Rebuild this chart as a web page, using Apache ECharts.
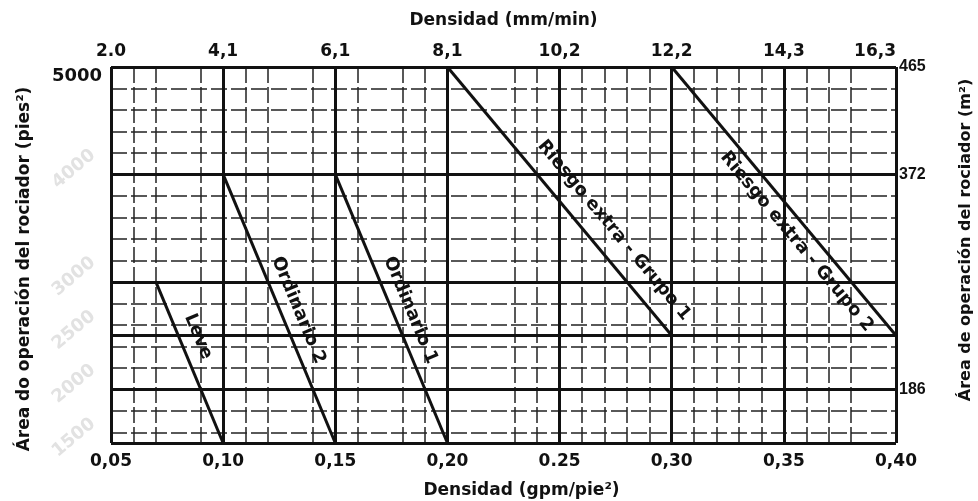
<!DOCTYPE html>
<html><head><meta charset="utf-8">
<script src="https://cdn.jsdelivr.net/npm/echarts@6/dist/echarts.min.js"></script>
<style>html,body{margin:0;padding:0;background:#fff}#c{width:978px;height:501px}</style>
</head><body><div id="c"></div>
<script>
// ---- axis ticks / labels ----
const xTicks = [0.05, 0.10, 0.15, 0.20, 0.25, 0.30, 0.35, 0.40];
const bottomLabels = ['0,05', '0,10', '0,15', '0,20', '0.25', '0,30', '0,35', '0,40'];
const topLabels = ['2.0', '4,1', '6,1', '8,1', '10,2', '12,2', '14,3', '16,3'];
const leftValues = [5000];
const leftLabels = ['5000'];
const faintValues = [4000, 3000, 2500, 2000, 1500];
const faintLabels = ['4000', '3000', '2500', '2000', '1500'];
const rightValues = [5000, 4000, 2000];
const rightLabels = ['465', '372', '186'];

// ---- grid lines ----
const majorX = [0.05, 0.10, 0.15, 0.20, 0.25, 0.30, 0.35, 0.40];
const minorX = [0.06, 0.07, 0.09, 0.11, 0.12, 0.14, 0.16, 0.18, 0.19, 0.23, 0.24,
                0.26, 0.27, 0.28, 0.29, 0.31, 0.32, 0.33, 0.34, 0.36, 0.37, 0.38];
const majorY = [1500, 2000, 2500, 3000, 4000, 5000];
const minorY = [1600, 1800, 2200, 2400, 2600, 2800, 3200, 3400, 3600, 3800, 4200, 4400, 4600, 4800];

// ---- design curves (density gpm/ft², area ft²) ----
const leveDensity = [0.07, 0.10],  leveArea = [3000, 1500];
const ord2Density = [0.10, 0.15],  ord2Area = [4000, 1500];
const ord1Density = [0.15, 0.20],  ord1Area = [4000, 1500];
const eh1Density  = [0.20, 0.30],  eh1Area  = [5000, 2500];
const eh2Density  = [0.30, 0.40],  eh2Area  = [5000, 2500];

const FONT = 'DejaVu Sans';
const INK = '#111';

function pick(values, labels, v, tol) {
  for (let i = 0; i < values.length; i++) if (Math.abs(values[i] - v) < tol) return labels[i];
  return '';
}

const curves = [
  {name: 'Leve', d: leveDensity, a: leveArea, pos: 'insideStartTop', dist: [43, 9]},
  {name: 'Ordinario 2', d: ord2Density, a: ord2Area, pos: 'insideStartTop', dist: [97, 8]},
  {name: 'Ordinario 1', d: ord1Density, a: ord1Area, pos: 'insideStartTop', dist: [97, 8]},
  {name: 'Riesgo extra - Grupo 1', d: eh1Density, a: eh1Area, pos: 'insideStartTop', dist: [118, 14]},
  {name: 'Riesgo extra - Grupo 2', d: eh2Density, a: eh2Area, pos: 'insideStartBottom', dist: [100, 7]}
];

const curveSeries = curves.map(c => ({
  name: c.name,
  type: 'line',
  z: 5,
  symbol: 'none',
  animation: false,
  lineStyle: {color: INK, width: 3},
  data: c.d.map((x, i) => [x, c.a[i]]),
  markLine: {
    silent: true,
    symbol: 'none',
    animation: false,
    lineStyle: {color: 'rgba(0,0,0,0)', width: 1},
    label: {
      show: true, position: c.pos, distance: c.dist,
      formatter: c.name, color: INK,
      fontFamily: FONT, fontWeight: 'bold', fontSize: 18
    },
    data: [[{coord: [c.d[0], c.a[0]]}, {coord: [c.d[1], c.a[1]]}]]
  }
}));

const minorStyle = {color: '#222', width: 1.5, type: [16, 4]};
const majorStyle = {color: INK, width: 3, type: 'solid'};

const gridSeries = [
  {
    name: 'minor', type: 'line', data: [], z: 2, animation: false,
    markLine: {
      silent: true, symbol: 'none', animation: false, label: {show: false},
      lineStyle: minorStyle,
      data: minorX.map(v => ({xAxis: v})).concat(minorY.map(v => ({yAxis: v})))
    }
  },
  {
    name: 'major', type: 'line', data: [], z: 3, animation: false,
    markLine: {
      silent: true, symbol: 'none', animation: false, label: {show: false},
      lineStyle: majorStyle,
      data: majorX.map(v => ({xAxis: v})).concat(majorY.map(v => ({yAxis: v})))
    }
  }
];

const tickText = {fontFamily: FONT, fontWeight: 'bold', fontSize: 17, color: INK};
const titleText = {fontFamily: FONT, fontWeight: 'bold', fontSize: 17, color: INK};

const option = {
  backgroundColor: '#ffffff',
  animation: false,
  grid: {left: 111, right: 82, top: 67, bottom: 58, outerBoundsMode: 'none', containLabel: false},
  xAxis: [
    {
      type: 'value', position: 'bottom', min: 0.05, max: 0.40, interval: 0.05,
      axisLine: {show: false}, axisTick: {show: false}, splitLine: {show: false},
      axisLabel: Object.assign({margin: 10, formatter: v => pick(xTicks, bottomLabels, v, 1e-6)}, tickText),
      name: 'Densidad (gpm/pie²)', nameLocation: 'middle', nameGap: 39,
      nameTextStyle: Object.assign({padding: [0, 0, 0, 36]}, titleText)
    },
    {
      type: 'value', position: 'top', min: 0.05, max: 0.40, interval: 0.05,
      axisLine: {show: false}, axisTick: {show: false}, splitLine: {show: false},
      axisLabel: Object.assign({margin: 7, alignMaxLabel: 'right',
        formatter: v => pick(xTicks, topLabels, v, 1e-6)}, tickText),
      name: 'Densidad (mm/min)', nameLocation: 'middle', nameGap: 38,
      nameTextStyle: titleText
    }
  ],
  yAxis: [
    {
      type: 'value', position: 'left', min: 1500, max: 5000, interval: 500,
      axisLine: {show: false}, axisTick: {show: false}, splitLine: {show: false},
      axisLabel: Object.assign({margin: 9, verticalAlign: 'top',
        formatter: v => pick(leftValues, leftLabels, v, 1e-6)}, tickText, {fontSize: 18}),
      name: 'Área do operación del rociador (pies²)', nameLocation: 'middle', nameGap: 78,
      nameTextStyle: Object.assign({padding: [0, 28, 0, 0]}, titleText, {fontSize: 17})
    },
    {
      type: 'value', position: 'left', min: 1500, max: 5000, interval: 500,
      axisLine: {show: false}, axisTick: {show: false}, splitLine: {show: false},
      axisLabel: {margin: 0, rotate: 40,
        formatter: v => {
          const t = pick(faintValues, faintLabels, v, 1e-6);
          return t ? '{f|' + t + '}' : '';
        },
        rich: {f: {fontFamily: FONT, fontWeight: 'bold', fontSize: 18, color: '#e2e2e2',
                   padding: [0, 0, 56, 0]}}}
    },
    {
      type: 'value', position: 'right', min: 1500, max: 5000, interval: 500,
      axisLine: {show: false}, axisTick: {show: false}, splitLine: {show: false},
      axisLabel: {margin: 3, fontFamily: 'Liberation Sans', fontWeight: 'bold', fontSize: 16, color: INK,
        formatter: v => pick(rightValues, rightLabels, v, 1e-6)},
      name: 'Área de operación del rociador (m²)', nameLocation: 'middle', nameGap: 62,
      nameTextStyle: Object.assign({padding: [0, 0, 0, 30]}, titleText, {fontSize: 16})
    }
  ],
  series: gridSeries.concat(curveSeries)
};

const chart = echarts.init(document.getElementById('c'), null, {renderer: 'canvas'});
chart.setOption(option);
</script>
</body></html>
